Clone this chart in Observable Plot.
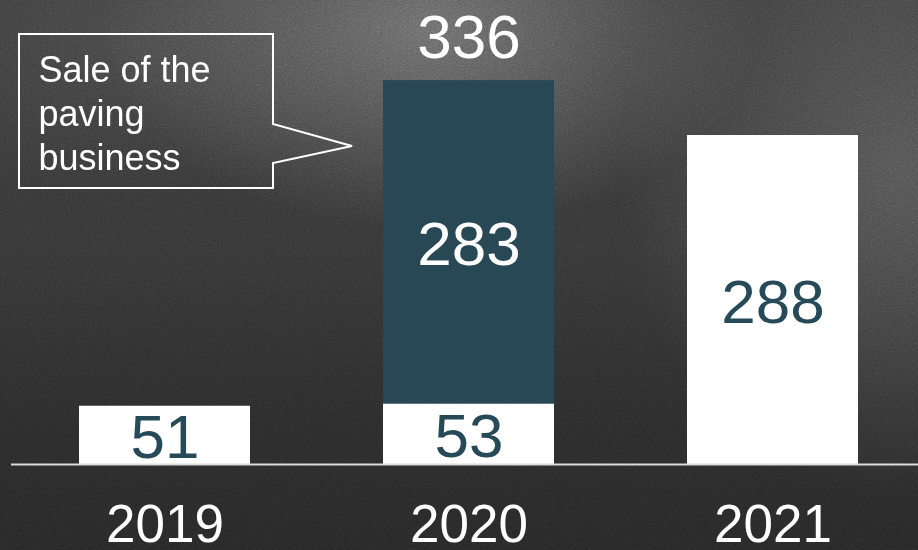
<!DOCTYPE html>
<html>
<head>
<meta charset="utf-8">
<script src="https://cdn.jsdelivr.net/npm/d3@7"></script>
<script src="https://cdn.jsdelivr.net/npm/@observablehq/plot@0.6"></script>
<style>
  html, body { margin: 0; padding: 0; }
  body { width: 918px; height: 550px; overflow: hidden; position: relative; background: #2e2e2e; font-family: "Liberation Sans", Arial, sans-serif; }
  #bg { position: absolute; left: 0; top: 0; width: 918px; height: 550px;
    background:
      radial-gradient(ellipse 330px 200px at 430px 30px, rgba(120,120,120,0.75), rgba(120,120,120,0) 100%),
      radial-gradient(ellipse 280px 330px at 900px 170px, rgba(100,100,100,0.6), rgba(100,100,100,0) 100%),
      radial-gradient(ellipse 250px 160px at 120px 40px, rgba(80,80,80,0.5), rgba(80,80,80,0) 100%),
      linear-gradient(180deg, #383838 0%, #343434 45%, #2a2a2a 75%, #262626 100%);
  }
  #noise { position: absolute; left: 0; top: 0; width: 918px; height: 550px; opacity: 0.6; mix-blend-mode: overlay;
    background-image: url("data:image/svg+xml;utf8,<svg xmlns='http://www.w3.org/2000/svg' width='918' height='550'><filter id='n'><feTurbulence type='fractalNoise' baseFrequency='0.7' numOctaves='3' stitchTiles='stitch'/><feColorMatrix type='saturate' values='0'/></filter><rect width='100%' height='100%' filter='url(%23n)'/></svg>");
  }
  #chart { position: absolute; left: 0; top: 0; }
  #chart svg { background: transparent; overflow: visible; }
</style>
</head>
<body>
<div id="bg"></div>
<div id="noise"></div>
<div id="chart"></div>
<script>
// ---- data ----
const years = ["2019", "2020", "2021"];
const continuingValues = [51, 53, 288];
const pavingYears = ["2020"];
const pavingValues = [283];
const parts = ["continuing", "paving"];
const partFill = ["#ffffff", "#274854"];
const partLabel = ["#264a57", "#ffffff"];
const calloutLines = ["Sale of the", "paving", "business"];

// ---- table built from arrays ----
const rows = [];
years.forEach((y, i) => rows.push({year: y, part: parts[0], value: continuingValues[i]}));
pavingYears.forEach((y, i) => rows.push({year: y, part: parts[1], value: pavingValues[i]}));
const fillOf = d => partFill[parts.indexOf(d.part)];
const labelOf = d => partLabel[parts.indexOf(d.part)];
const stackedYears = pavingYears;

const FONT = "Liberation Sans, Arial, sans-serif";

const plot = Plot.plot({
  width: 918,
  height: 550,
  marginTop: 0,
  marginLeft: 11,
  marginRight: 0,
  marginBottom: 86,
  style: {background: "transparent", fontFamily: FONT, color: "white"},
  x: {domain: years, range: [17, 920], paddingInner: 0.439, paddingOuter: 0.2, label: null},
  y: {domain: [0, 406.2], axis: null},
  color: {type: "identity"},
  marks: [
    Plot.barY(rows, {x: "year", y: "value", fill: fillOf}),
    Plot.text(rows, Plot.stackY({
      x: "year", y: "value", text: d => String(d.value),
      fill: labelOf, fontSize: 62, lineAnchor: "middle", dy: 3
    })),
    Plot.text(rows.filter(d => stackedYears.includes(d.year)), Plot.groupX(
      {y: "sum", text: "sum"},
      {x: "year", y: "value", text: "value", fill: "white", fontSize: 62, lineAnchor: "bottom", dy: -23}
    )),
    Plot.ruleY([0], {stroke: "#dcdcdc", strokeWidth: 2}),
    Plot.axisX({tickSize: 0, tickPadding: 40, fontSize: 53, fill: "white", label: null}),
    Plot.text([calloutLines.join("\n")], {
      text: d => d, frameAnchor: "top-left", textAnchor: "start", lineAnchor: "top",
      dx: 27, dy: 50, fontSize: 36, lineHeight: 1.222, fill: "white"
    })
  ]
});

// callout outline (annotation shape)
const svg = d3.select(plot);
const box = {x0: 19, y0: 34, x1: 273, y1: 188, t0: 124, t1: 163, tipX: 352, tipY: 146};
svg.insert("path", ":first-child")
  .attr("d", `M${box.x0},${box.y0}H${box.x1}V${box.t0}L${box.tipX},${box.tipY}L${box.x1},${box.t1}V${box.y1}H${box.x0}Z`)
  .attr("fill", "none")
  .attr("stroke", "white")
  .attr("stroke-width", 2)
  .attr("stroke-linejoin", "miter");

document.getElementById("chart").appendChild(plot);
</script>
</body>
</html>
